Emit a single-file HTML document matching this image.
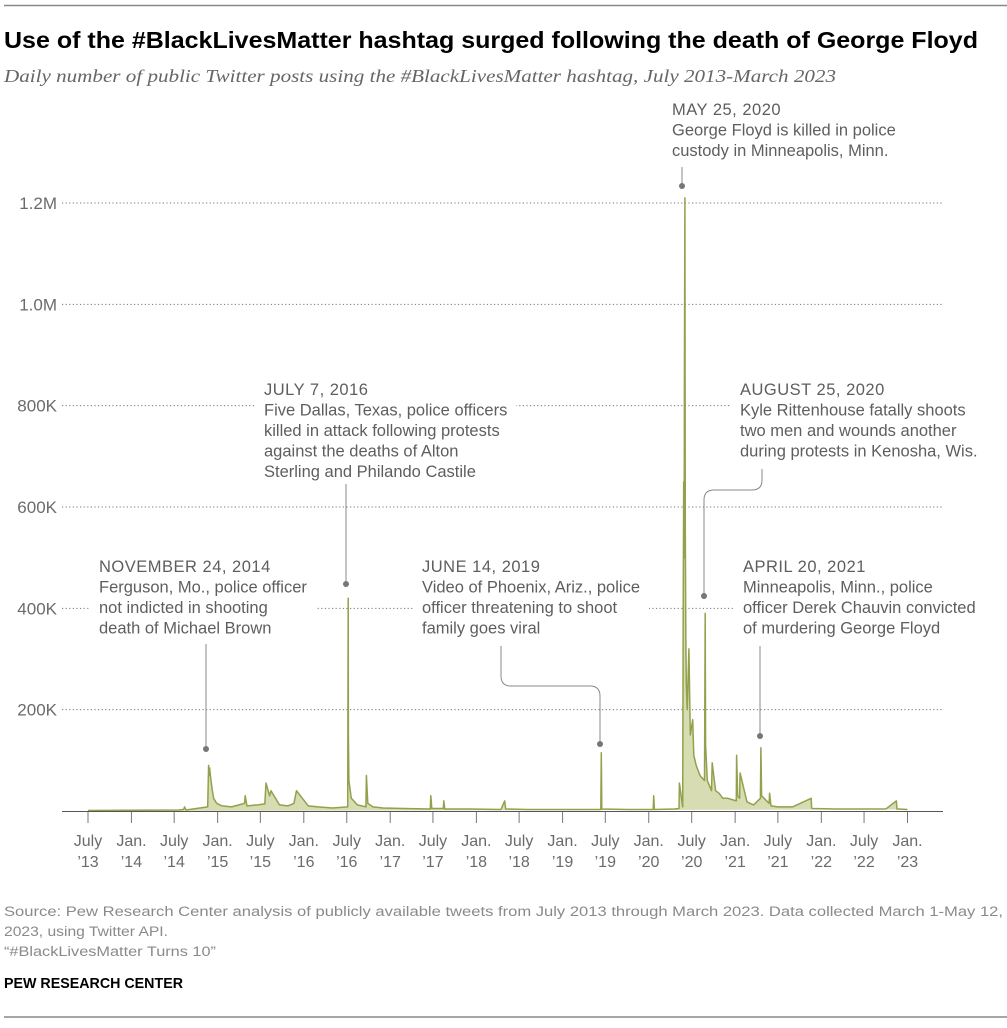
<!DOCTYPE html>
<html><head><meta charset="utf-8">
<style>
body{margin:0;background:#fff;width:1007px;height:1023px;overflow:hidden;font-family:"Liberation Sans",sans-serif;}
svg text{font-family:"Liberation Sans",sans-serif;}
.ann{font-size:16.5px;fill:#5e5e5e;}
.tick{font-size:16px;fill:#6b6b6b;}
.ytick{font-size:17px;fill:#6b6b6b;}
.src{font-family:"Liberation Sans Narrow","Liberation Sans",sans-serif;font-size:13.5px;fill:#8a8a8a;}
</style></head>
<body>
<svg id="chart" width="1007" height="1023" xmlns="http://www.w3.org/2000/svg">
<line x1="4" y1="5.5" x2="1007" y2="5.5" stroke="#888" stroke-width="1.5"/>
<text x="4" y="48" font-size="23" font-weight="bold" fill="#000" textLength="974" lengthAdjust="spacingAndGlyphs">Use of the #BlackLivesMatter hashtag surged following the death of George Floyd</text>
<text x="4" y="82" font-size="17.5" font-style="italic" fill="#666" style="font-family:'Liberation Serif',serif" textLength="832" lengthAdjust="spacingAndGlyphs">Daily number of public Twitter posts using the #BlackLivesMatter hashtag, July 2013-March 2023</text>
<g id="grid"></g>
<g id="area"></g>
<g id="axis"></g>
<g id="yaxis"></g>
<g id="anns"></g>
<text class="src" x="4" y="916" textLength="999" lengthAdjust="spacingAndGlyphs">Source: Pew Research Center analysis of publicly available tweets from July 2013 through March 2023. Data collected March 1-May 12,</text>
<text class="src" x="4" y="936" textLength="164" lengthAdjust="spacingAndGlyphs">2023, using Twitter API.</text>
<text class="src" x="4" y="956" textLength="212" lengthAdjust="spacingAndGlyphs">“#BlackLivesMatter Turns 10”</text>
<text x="4" y="988" font-size="15" font-weight="bold" fill="#000" style="font-family:'Liberation Sans Narrow','Liberation Sans',sans-serif" textLength="179" lengthAdjust="spacingAndGlyphs">PEW RESEARCH CENTER</text>
<line x1="4" y1="1017" x2="1007" y2="1017" stroke="#888" stroke-width="1.5"/>
</svg>
<script>
const yTicks=[200,400,600,800,1000,1200];
const yTickLabels=["200K","400K","600K","800K","1.0M","1.2M"];
const xTickDates=["2013-07-01","2014-01-01","2014-07-01","2015-01-01","2015-07-01","2016-01-01","2016-07-01","2017-01-01","2017-07-01","2018-01-01","2018-07-01","2019-01-01","2019-07-01","2020-01-01","2020-07-01","2021-01-01","2021-07-01","2022-01-01","2022-07-01","2023-01-01"];
const xTickLabels=[["July","'13"],["Jan.","'14"],["July","'14"],["Jan.","'15"],["July","'15"],["Jan.","'16"],["July","'16"],["Jan.","'17"],["July","'17"],["Jan.","'18"],["July","'18"],["Jan.","'19"],["July","'19"],["Jan.","'20"],["July","'20"],["Jan.","'21"],["July","'21"],["Jan.","'22"],["July","'22"],["Jan.","'23"]];
// series: dates and daily posts (thousands)
const dates=["2013-07-01","2014-07-20","2014-08-10","2014-08-14","2014-08-20","2014-11-20","2014-11-24","2014-11-25","2014-11-28","2014-12-04","2014-12-08","2014-12-15","2014-12-28","2015-01-20","2015-03-01","2015-04-25","2015-04-28","2015-05-05","2015-06-20","2015-07-20","2015-07-25","2015-08-09","2015-08-15","2015-09-20","2015-10-25","2015-11-20","2015-12-01","2016-01-20","2016-03-01","2016-05-01","2016-07-05","2016-07-07","2016-07-08","2016-07-10","2016-07-20","2016-08-15","2016-09-20","2016-09-22","2016-09-28","2016-10-20","2016-12-01","2017-03-01","2017-06-20","2017-06-22","2017-06-26","2017-08-14","2017-08-16","2017-08-20","2017-12-01","2018-04-15","2018-05-01","2018-05-05","2018-08-01","2019-01-01","2019-06-12","2019-06-14","2019-06-16","2019-10-01","2020-01-20","2020-01-22","2020-01-25","2020-04-20","2020-05-08","2020-05-10","2020-05-24","2020-05-26","2020-05-28","2020-05-30","2020-05-31","2020-06-02","2020-06-03","2020-06-04","2020-06-06","2020-06-08","2020-06-12","2020-06-19","2020-06-25","2020-07-05","2020-07-10","2020-07-20","2020-08-05","2020-08-24","2020-08-27","2020-08-29","2020-09-05","2020-09-23","2020-09-26","2020-10-10","2020-10-25","2020-11-10","2020-12-01","2021-01-06","2021-01-07","2021-01-12","2021-01-20","2021-01-22","2021-02-20","2021-03-20","2021-04-18","2021-04-20","2021-04-23","2021-05-25","2021-05-27","2021-06-02","2021-07-01","2021-09-01","2021-11-19","2021-11-21","2021-11-25","2022-03-01","2022-06-01","2022-10-01","2022-11-15","2022-11-17","2022-11-21","2023-01-01","2023-03-31"];
const values=[1,2,3,8,2,8,90,70,85,60,45,25,15,10,8,15,30,10,12,14,55,30,40,12,10,15,40,10,8,6,8,420,150,60,25,12,8,70,15,8,6,5,4,30,5,5,20,4,4,3,20,4,3,3,3,115,4,3,3,30,3,4,5,55,8,400,650,500,850,1210,850,550,350,250,200,320,150,180,110,90,70,60,390,130,60,40,95,40,35,25,25,20,110,30,25,75,18,12,25,125,30,15,35,10,8,8,25,6,5,4,4,4,20,4,4,3];
const svg="http://www.w3.org/2000/svg";
const x0=Date.parse("2013-07-01"),pxDay=0.2361;
function xs(d){return 88+(Date.parse(d)-x0)/864e5*pxDay;}
function ys(v){return 811-v*608/1200;}
function mk(tag,attrs,parent,text){const e=document.createElementNS(svg,tag);for(const k in attrs)e.setAttribute(k,attrs[k]);if(text!==undefined)e.textContent=text;parent.appendChild(e);return e;}
const grid=document.getElementById('grid'),yaxis=document.getElementById('yaxis');
yTicks.forEach((t,i)=>{
  const l=mk('line',{x1:62,x2:943,y1:ys(t),y2:ys(t),stroke:'#777','stroke-dasharray':'1.2,2.4','stroke-width':1},grid);
  
  
  const tx=mk('text',{x:57,y:ys(t)+6,'text-anchor':'end',class:'ytick'},yaxis,yTickLabels[i]);
  
  
});
const area=document.getElementById('area');
let pts=dates.map((d,i)=>xs(d).toFixed(1)+','+ys(values[i]).toFixed(1));
const last=xs(dates[dates.length-1]),first=xs(dates[0]);
const fillEl=mk('path',{d:'M'+first+',811 L'+pts.join(' L')+' L'+last+',811Z',fill:'#d7dcb2',stroke:'none'},area);


const lineEl=mk('path',{d:'M'+pts.join(' L'),fill:'none',stroke:'#93a04c','stroke-width':1.5,'stroke-linejoin':'round'},area);


const axis=document.getElementById('axis');
const base=mk('line',{x1:62,x2:943,y1:811.5,y2:811.5,stroke:'#555','stroke-width':1},axis);


xTickDates.forEach((d,i)=>{
  const x=xs(d);
  const t=mk('line',{x1:x,x2:x,y1:812,y2:823,stroke:'#777','stroke-width':1},axis);
  
  
  const a=mk('text',{x:x,y:846,'text-anchor':'middle',class:'tick'},axis,xTickLabels[i][0]);
  
  
  const b=mk('text',{x:x,y:867,'text-anchor':'middle',class:'tick'},axis,xTickLabels[i][1].replace("'","’"));
  
  
});
// annotations
const anns=document.getElementById('anns');
const annData=[
 {name:'ferguson',x:99,y:572,lines:["NOVEMBER 24, 2014","Ferguson, Mo., police officer","not indicted in shooting","death of Michael Brown"],path:"M206,644 L206,749",dot:[206,749]},
 {name:'dallas',x:264,y:395,lines:["JULY 7, 2016","Five Dallas, Texas, police officers","killed in attack following protests","against the deaths of Alton","Sterling and Philando Castile"],path:"M346,484 L346,584",dot:[346,584]},
 {name:'phoenix',x:422,y:572,lines:["JUNE 14, 2019","Video of Phoenix, Ariz., police","officer threatening to shoot","family goes viral"],path:"M501,646 L501,676 Q501,686 511,686 L590,686 Q600,686 600,696 L600,744",dot:[600,744]},
 {name:'floyd',x:672,y:115,lines:["MAY 25, 2020","George Floyd is killed in police","custody in Minneapolis, Minn."],path:"M682,167 L682,186",dot:[682,186]},
 {name:'kenosha',x:740,y:395,lines:["AUGUST 25, 2020","Kyle Rittenhouse fatally shoots","two men and wounds another","during protests in Kenosha, Wis."],path:"M762,469 L762,480 Q762,490 752,490 L714,490 Q704,490 704,500 L704,596",dot:[704,596]},
 {name:'chauvin',x:743,y:572,lines:["APRIL 20, 2021","Minneapolis, Minn., police","officer Derek Chauvin convicted","of murdering George Floyd"],path:"M760,646 L760,736",dot:[760,736]}
];
annData.forEach(a=>{
  const g=mk('g',{},anns);
  
  
  let maxw=0;const texts=[];
  a.lines.forEach((ln,i)=>{
    const t=mk('text',{x:a.x,y:a.y+i*20.5,class:'ann','font-size':i==0?'15':'16.5','letter-spacing':i==0?'0.5':'0'},g,ln);
    
    
    texts.push(t);
  });
  texts.forEach(t=>{maxw=Math.max(maxw,t.getComputedTextLength());});
  const r=mk('rect',{x:a.x-9,y:a.y-16,width:maxw+18,height:a.lines.length*20.5+4,fill:'#fff'},g);
  
  
  g.insertBefore(r,g.firstChild);
  const p=mk('path',{d:a.path,fill:'none',stroke:'#888','stroke-width':1},anns);
  
  
  const c=mk('circle',{cx:a.dot[0],cy:a.dot[1],r:3,fill:'#777'},anns);
  
  
});
</script>
</body></html>
